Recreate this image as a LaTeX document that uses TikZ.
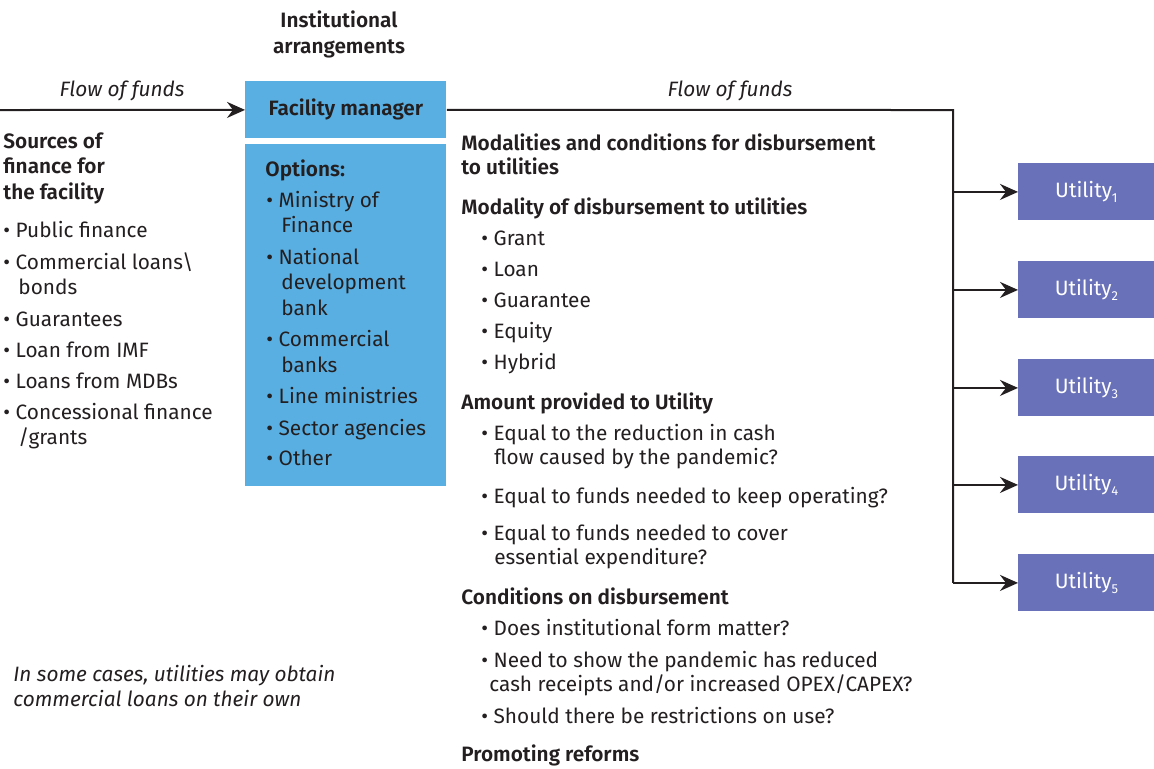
\documentclass[tikz,border=0pt]{standalone}
\usepackage{fontspec}
\setmainfont{Fira Sans}[BoldFont={Fira Sans SemiBold}]
\usetikzlibrary{arrows.meta,positioning}
\definecolor{ink}{HTML}{231F20}
\definecolor{facblue}{HTML}{5AAFE2}
\definecolor{utilblue}{HTML}{6972B8}
\newcommand{\itm}{\textbullet\ }

\begin{document}
\begin{tikzpicture}
	[x=0.5pt,y=-0.5pt,
	txt/.style={anchor=base west,inner sep=0pt,text=ink,
		font=\fontsize{10.4}{12}\selectfont},
	head/.style={txt,font=\fontsize{10.4}{12}\selectfont\bfseries},
	note/.style={txt,font=\fontsize{10.4}{12}\selectfont\itshape},
	fbox/.style={rectangle,fill=facblue,inner sep=0pt,anchor=north west,
		minimum width=100.5pt},
	ubox/.style={rectangle,fill=utilblue,inner sep=0pt,anchor=north west,
		minimum width=68pt,minimum height=28.5pt,text=white,
		font=\fontsize{10.4}{12}\selectfont},
	flow/.style={draw=ink,line width=1pt},
	tip/.style={-{Stealth[length=9pt,width=8pt,inset=3pt]}}]
	\useasboundingbox (0,0) rectangle (1154,768);

	%boxes
	\node[fbox,minimum height=28.5pt,font=\fontsize{10.4}{12}\selectfont\bfseries,text=ink]
		(fac) at (245,81) {Facility manager};
	\node[fbox,minimum height=171pt] (opt) at (245,144) {};
	\foreach \k/\y in {1/163,2/261,3/359,4/456,5/554}
		\node[ubox] (u\k) at (1018,\y) {Utility\raisebox{-0.45ex}{\fontsize{6.5}{7}\selectfont\k}};

	%flow of funds
	\coordinate (in) at (0,110);
	\coordinate (bend) at (953,110);
	\draw[flow,tip] (in) -- (fac.west);
	\draw[flow] (fac.east) -- (bend) -- (bend |- u5.west);
	\foreach \k in {1,...,5}
		\draw[flow,tip] (bend |- u\k.west) -- (u\k.west);
	\node[note,anchor=base] (fl1) at (122,96) {Flow of funds};
	\node[note,anchor=base] (fl2) at (730,96) {Flow of funds};

	%institutional arrangements
	\node[head,anchor=base] (ia1) at (339,27) {Institutional};
	\node[head,anchor=base] (ia2) at (339,53) {arrangements};

	%sources of finance
	\node[head] (s1) at (3,148) {Sources of};
	\node[head] (s2) at (3,173) {finance for};
	\node[head] (s3) at (3,199) {the facility};
	\node[txt] (s4) at (3,237) {\itm Public finance};
	\node[txt] (s5) at (3,269) {\itm Commercial loans\textbackslash};
	\node[txt] (s6) at (18,294) {bonds};
	\node[txt] (s7) at (3,326) {\itm Guarantees};
	\node[txt] (s8) at (3,357) {\itm Loan from IMF};
	\node[txt] (s9) at (3,388) {\itm Loans from MDBs};
	\node[txt] (s10) at (3,419) {\itm Concessional finance};
	\node[txt] (s11) at (18,444) {/grants};
	\node[note] (s12) at (13,681) {In some cases, utilities may obtain};
	\node[note] (s13) at (13,706) {commercial loans on their own};

	%options
	\node[head] (o1) at (265,176) {Options:};
	\node[txt] (o2) at (266,207) {\itm Ministry of};
	\node[txt] (o3) at (281,232) {Finance};
	\node[txt] (o4) at (266,264) {\itm National};
	\node[txt] (o5) at (281,289) {development};
	\node[txt] (o6) at (281,315) {bank};
	\node[txt] (o7) at (266,346) {\itm Commercial};
	\node[txt] (o8) at (281,372) {banks};
	\node[txt] (o9) at (266,403) {\itm Line ministries};
	\node[txt] (o10) at (266,435) {\itm Sector agencies};
	\node[txt] (o11) at (266,465) {\itm Other};

	%modalities and conditions
	\node[head] (m1) at (461,150) {Modalities and conditions for disbursement};
	\node[head] (m2) at (461,174) {to utilities};
	\node[head] (m3) at (461,214) {Modality of disbursement to utilities};
	\node[txt] (m4) at (481,245) {\itm Grant};
	\node[txt] (m5) at (481,276) {\itm Loan};
	\node[txt] (m6) at (481,307) {\itm Guarantee};
	\node[txt] (m7) at (481,338) {\itm Equity};
	\node[txt] (m8) at (481,369) {\itm Hybrid};
	\node[head] (m9) at (461,409) {Amount provided to Utility};
	\node[txt] (m10) at (481,440) {\itm Equal to the reduction in cash};
	\node[txt] (m11) at (494,464) {flow caused by the pandemic?};
	\node[txt] (m12) at (481,503) {\itm Equal to funds needed to keep operating?};
	\node[txt] (m13) at (481,540) {\itm Equal to funds needed to cover};
	\node[txt] (m14) at (494,564) {essential expenditure?};
	\node[head] (m15) at (461,604) {Conditions on disbursement};
	\node[txt] (m16) at (481,635) {\itm Does institutional form matter?};
	\node[txt] (m17) at (481,667) {\itm Need to show the pandemic has reduced};
	\node[txt] (m18) at (489,691) {cash receipts and/or increased OPEX/CAPEX?};
	\node[txt] (m19) at (481,723) {\itm Should there be restrictions on use?};
	\node[head] (m20) at (461,761) {Promoting reforms};
\end{tikzpicture}
\end{document}
